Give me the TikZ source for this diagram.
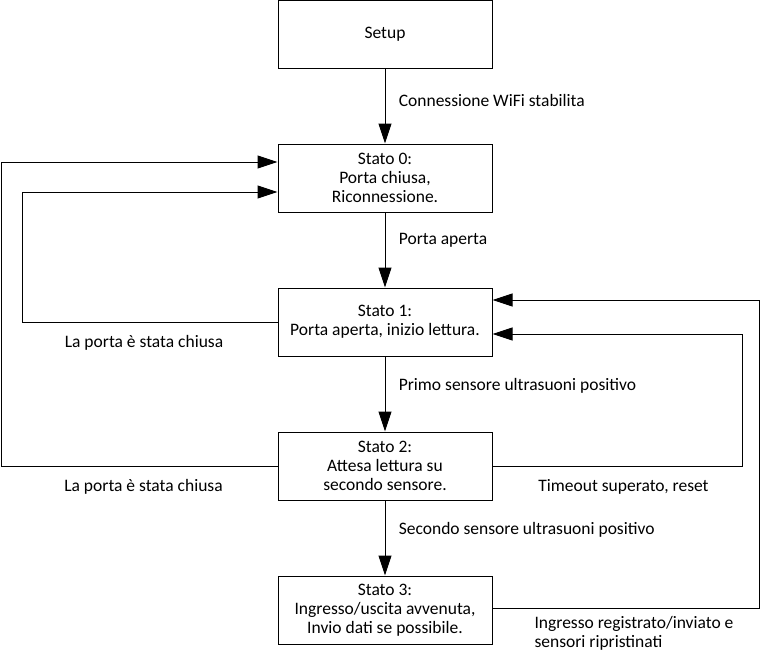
\documentclass[tikz,border=0pt]{standalone}
\usepackage{fontspec}
\setmainfont{Carlito}
\usetikzlibrary{arrows.meta}
\tikzset{
  stato/.style={draw, line width=1pt, minimum width=214pt, minimum height=68pt, align=center, inner sep=2pt},
  arr/.style={-{Triangle[length=20pt,width=13pt]}, line width=1pt},
  lbl/.style={font=\fontsize{17.5}{19}\selectfont, align=left}
}
\begin{document}
\begin{tikzpicture}[x=1pt, y=-1pt, font=\fontsize{17.5}{19}\selectfont]
            \useasboundingbox (0,0) rectangle (761,656);
            \node[stato] (S) at (385,34.5){Setup};
            \node[stato] (S0) at (385,178){Stato 0:\\Porta chiusa,\\Riconnessione.};
            \node[stato] (S1) at (385,322){Stato 1:\\Porta aperta, inizio lettura.};
            \node[stato] (S2) at (385,466){Stato 2:\\Attesa lettura su\\secondo sensore.};
            \node[stato] (S3) at (385,610){Stato 3:\\Ingresso/uscita avvenuta,\\Invio dati se possibile.};
            \draw[arr] (S) -- (S0) node[lbl, midway, right=10pt, yshift=6pt]{Connessione WiFi stabilita};
            \draw[arr] (S0) -- (S1) node[lbl, midway, right=10pt, yshift=10pt]{Porta aperta};
            \draw[arr] (S1) -- (S2) node[lbl, midway, right=10pt, yshift=8pt]{Primo sensore ultrasuoni positivo};
            \draw[arr] (S2) -- (S3) node[lbl, midway, right=10pt, yshift=8pt]{Secondo sensore ultrasuoni positivo};
            \draw[arr] (S1.west) -- node[lbl, below=10pt, xshift=-6pt]{La porta è stata chiusa} ++(-255,0) |- ([yshift=-14pt]S0.west);
            \draw[arr] (S2.west) -- node[lbl, below=10pt, xshift=4pt]{La porta è stata chiusa} ++(-276,0) |- ([yshift=16pt]S0.west);
            \draw[arr] (S2.east) -- node[lbl, below=10pt, xshift=6pt]{Timeout superato, reset} ++(250,0) |- ([yshift=-12pt]S1.east);
            \draw[arr] ([yshift=2pt]S3.east) -- node[lbl, below=5pt, xshift=8pt]{Ingresso registrato/inviato e\\sensori ripristinati} ++(267,0) |- ([yshift=22pt]S1.east);
        \end{tikzpicture}
\end{document}
